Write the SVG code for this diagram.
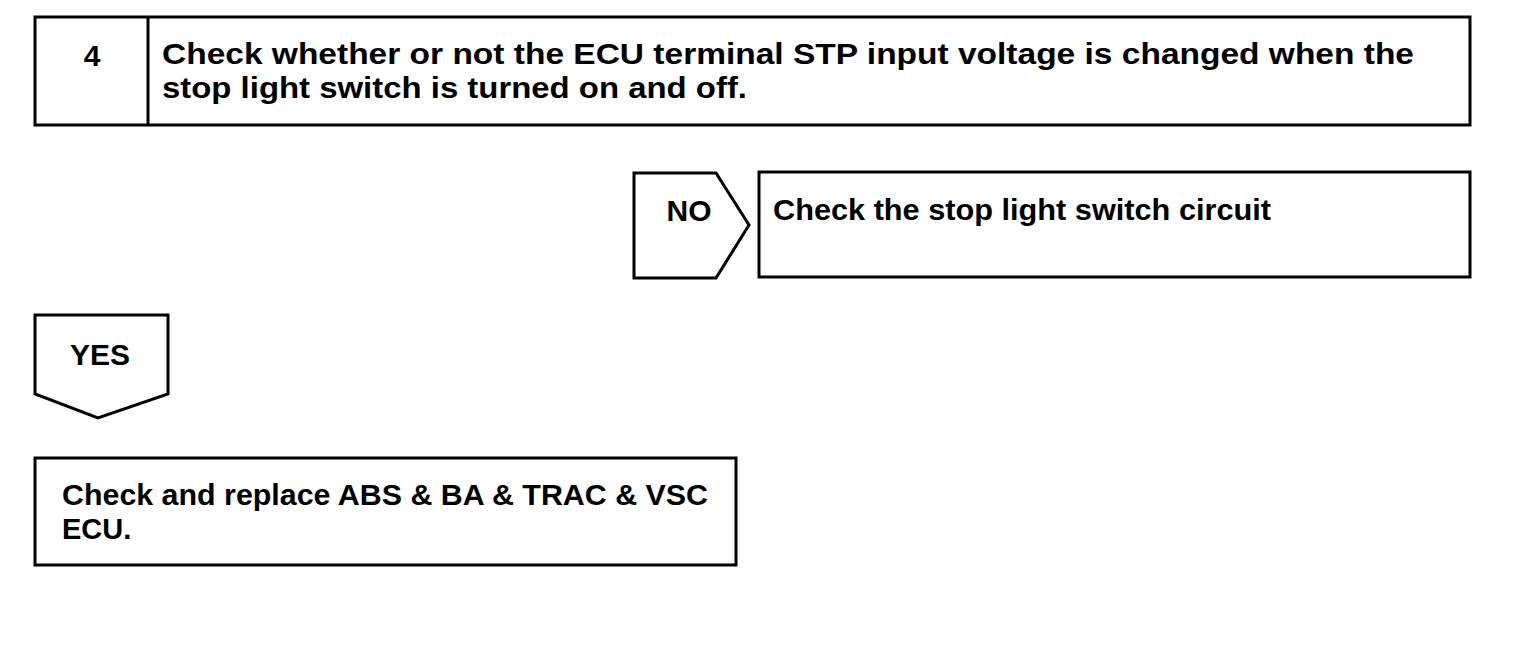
<svg xmlns="http://www.w3.org/2000/svg" width="1520" height="664" viewBox="0 0 1520 664">
<style>
.b{fill:#fff;stroke:#000;stroke-width:3}
.t{font-family:"Liberation Sans",Arial,sans-serif;font-weight:bold;font-size:30px;fill:#000}
.s{font-size:29px}
</style>
<rect width="1520" height="664" fill="#fff"/>
<g id="step4">
<rect class="b" x="35" y="17" width="1435" height="108"/>
<line x1="148" y1="17" x2="148" y2="125" stroke="#000" stroke-width="3"/>
<text class="t" x="92" y="66" text-anchor="middle">4</text>
<text class="t" x="162" y="64" textLength="1252" lengthAdjust="spacingAndGlyphs">Check whether or not the ECU terminal STP input voltage is changed when the</text>
<text class="t" x="162" y="98" textLength="585" lengthAdjust="spacingAndGlyphs">stop light switch is turned on and off.</text>
</g>
<g id="connectors">
<g id="no">
<polygon class="b" points="634,173 716,173 749,225 716,278 634,278"/>
<text class="t" x="689" y="221" text-anchor="middle">NO</text>
</g>
<g id="yes">
<polygon class="b" points="35,315 168,315 168,394 98,418 35,394"/>
<text class="t" x="100" y="365" text-anchor="middle">YES</text>
</g>
</g>
<g id="stoplight">
<rect class="b" x="759" y="172" width="711" height="105"/>
<text class="t" x="773" y="220" textLength="498" lengthAdjust="spacingAndGlyphs">Check the stop light switch circuit</text>
</g>
<g id="replace">
<rect class="b" x="35" y="458" width="701" height="107"/>
<text class="t s" x="62" y="505" textLength="646" lengthAdjust="spacingAndGlyphs">Check and replace ABS &amp; BA &amp; TRAC &amp; VSC</text>
<text class="t s" x="62" y="539">ECU.</text>
</g>
</svg>
